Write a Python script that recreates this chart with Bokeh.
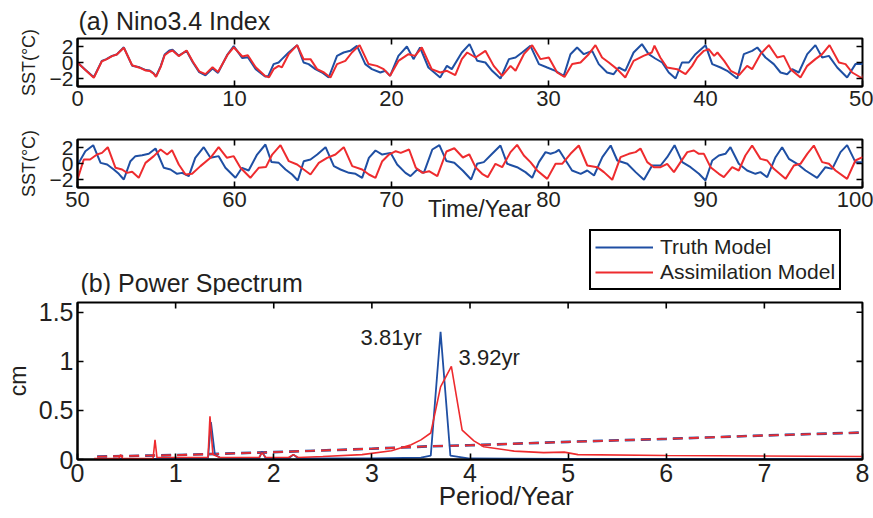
import math
from bokeh.plotting import figure
from bokeh.layouts import column
from bokeh.models import Range1d, FixedTicker, Label, Legend, LegendItem
from bokeh.embed import file_html
from bokeh.resources import INLINE

# ---------------- data ----------------
time_truth = [0.0, 0.5, 1.04, 1.55, 1.84, 2.2, 2.5, 2.95, 3.48, 3.95, 4.35, 4.6, 4.85, 5.0, 5.3, 5.55, 5.85,
              6.05, 6.45, 6.95, 7.35, 7.75, 8.15, 8.6, 8.95, 9.55, 9.95, 10.5, 10.85, 11.35, 11.95, 12.15,
              12.49, 12.81, 13.02, 13.45, 13.99, 14.4, 14.72, 15.15, 15.58, 16.0, 16.53, 16.95, 17.37, 17.8,
              18.33, 18.75, 19.29, 19.61, 19.91, 20.44, 20.98, 21.4, 21.82, 22.35, 23.1, 23.53, 23.84, 24.48,
              24.97, 25.46, 25.98, 26.41, 26.94, 27.48, 27.9, 28.32, 28.85, 29.39, 29.92, 30.44, 30.97, 31.4,
              31.82, 32.25, 32.78, 33.2, 33.73, 34.15, 34.47, 34.89, 35.42, 35.95, 36.38, 36.8, 37.24, 37.66,
              38.09, 38.5, 38.94, 39.36, 40.0, 40.43, 40.96, 41.38, 42.02, 42.44, 42.97, 43.3, 43.82, 44.35,
              44.78, 45.2, 45.52, 45.94, 46.48, 47.0, 47.43, 47.86, 48.39, 49.02, 49.55, 50.0,
              50.5, 51.0, 51.47, 51.89, 52.31, 52.63, 52.95, 53.37, 53.69, 54.12, 54.54, 54.97, 55.5, 55.92,
              56.34, 56.66, 57.09, 57.5, 58.04, 58.47, 58.99, 59.42, 60.06, 60.48, 60.9, 61.44, 61.97, 62.35,
              62.82, 63.25, 63.67, 64.03, 64.41, 64.84, 65.27, 65.8, 66.33, 66.75, 67.29, 67.71, 68.13, 68.56,
              68.98, 69.41, 69.94, 70.36, 70.89, 71.21, 71.64, 72.06, 72.6, 73.05, 73.5, 74.0, 74.55, 75.07,
              75.45, 75.88, 76.41, 76.94, 77.37, 78.0, 78.53, 78.96, 79.39, 79.81, 80.13, 80.45, 80.66, 81.5,
              82.05, 82.47, 82.9, 83.43, 83.96, 84.38, 85.02, 85.55, 86.08, 86.6, 87.14, 87.56, 88.03, 88.52,
              89.05, 89.58, 90.0, 90.43, 90.85, 91.27, 91.59, 92.12, 92.65, 93.18, 93.5, 93.93, 94.46, 94.88,
              95.31, 95.84, 96.37, 97.11, 97.64, 98.07, 98.6, 99.02, 99.55, 100.0]
sst_truth = [0.0, -0.9, -1.85, 0.2, 0.42, 0.83, 1.0, 1.9, -0.4, -0.6, -0.95, -1.0, -1.35, -1.75, -0.45, 1.0, 1.5,
             1.6, 0.85, 1.45, 0.0, -1.2, -1.6, -0.75, -1.3, 1.0, 2.05, 0.55, 0.65, -0.85, -1.75, -1.7,
             -0.2, 0.0, 0.42, 1.25, 2.17, 0.0, -0.2, -0.83, -1.25, -1.875, 0.83, 1.25, 1.46, 2.08,
             -0.2, -0.83, -1.25, -1.04, -1.67, 0.83, 2.0, 0.42, 1.875, -0.625, -1.875, -0.42, -0.83, 1.25,
             2.29, 0.21, 0.0, -1.04, -2.0, 0.42, 0.625, 1.25, 2.08, -0.2, -0.625, -1.04, -1.67, 1.04,
             1.875, 1.04, 1.46, -0.2, -1.25, -1.46, -0.625, -1.04, 1.25, 2.29, 1.04, 0.5, 0.0, -1.25,
             -2.0, 0.0, 0.0, 1.04, 2.17, -0.2, -0.625, -1.04, -2.0, 1.04, 1.46, 1.875, 0.625, -0.2,
             -1.25, -1.46, -0.83, -1.25, 1.04, 2.17, 0.625, 0.83, -0.625, -1.875, -0.2, -0.2,
             1.54, 2.29, 0.08, -0.125, -0.75, -1.29, -2.0, 0.29, 0.92, 1.04, 1.21, 1.875, -0.54, -0.75,
             -1.29, -1.17, -1.58, 0.71, 2.04, 0.71, 0.92, -0.54, -1.79, -0.54, -0.875, 1.12, 2.375, 0.2,
             0.08, -0.75, -1.375, -2.125, 0.29, 0.5, 1.12, 2.04, -0.33, -0.75, -1.17, -1.29, -1.79, 0.71,
             1.625, 1.12, 1.33, -0.125, -1.17, -1.58, -0.75, -1.17, 1.75, 2.3, 0.3, 0.1, -0.9, -2.0,
             -0.04, 0.17, 1.21, 2.25, -0.04, -0.46, -1.08, -1.79, 0.17, 1.42, 1.21, 1.42, 1.71, -0.875,
             -1.29, -0.875, -1.5, 0.79, 2.25, 0.375, -0.04, -1.08, -2.04, -0.25, -0.25, 0.79, 2.29, 0.17,
             -0.46, -1.29, -2.125, 0.375, 1.0, 1.21, 2.04, -0.04, -0.875, -1.29, -1.08, -1.71, 0.79, 2.04,
             0.58, -0.04, -0.875, -1.79, -0.46, -0.67, 1.42, 2.29, 0.17, 0.17]

time_assim = [0.0, 0.5, 1.04, 1.55, 1.84, 2.2, 2.5, 2.95, 3.48, 3.95, 4.35, 4.6, 4.85, 5.0, 5.3, 5.55, 5.85,
              6.05, 6.45, 6.95, 7.35, 7.75, 8.15, 8.6, 8.95, 9.55, 9.95, 10.5, 10.85, 11.35, 11.95, 12.2,
              12.49, 12.81, 13.02, 13.45, 13.99, 14.4, 14.84, 15.26, 15.7, 16.11, 16.53, 17.06, 17.48, 17.97,
              18.54, 19.07, 19.5, 19.91, 20.44, 21.08, 21.5, 21.93, 22.56, 23.1, 23.53, 24.06, 24.48, 24.82,
              25.35, 25.98, 26.51, 27.05, 27.58, 27.9, 28.43, 28.96, 29.49, 30.02, 30.55, 31.02, 31.51, 32.04,
              32.56, 32.99, 33.41, 33.84, 34.37, 34.89, 35.42, 36.05, 36.58, 36.75, 37.12, 37.55, 38.19, 38.73,
              39.15, 39.47, 39.9, 40.2, 40.55, 40.76, 41.19, 41.61, 42.14, 42.65, 42.97, 43.5, 44.04, 44.57,
              44.99, 45.41, 46.05, 46.48, 47.0, 47.43, 47.9, 48.5, 48.92, 49.34, 50.0,
              50.4, 50.8, 51.24, 51.56, 51.93, 52.42, 52.84, 53.16, 53.48, 53.9, 54.33, 54.86, 55.29, 55.71,
              56.02, 56.45, 56.88, 57.3, 57.83, 58.47, 58.99, 59.52, 59.95, 60.38, 61.01, 61.54, 62.0, 62.4,
              62.93, 63.46, 63.99, 64.41, 64.84, 65.37, 65.9, 66.43, 66.96, 67.5, 68.13, 68.56, 68.98, 69.41,
              69.84, 70.27, 70.59, 71.12, 71.55, 71.97, 72.39, 72.92, 73.5, 74.0, 74.55, 74.95, 75.35, 75.77,
              76.13, 76.62, 77.05, 77.58, 78.0, 78.43, 78.85, 79.28, 79.92, 80.45, 80.87, 81.4, 81.93, 82.47,
              83.1, 83.53, 84.06, 84.59, 85.12, 85.55, 85.86, 86.29, 86.71, 87.14, 87.56, 87.99, 88.41, 88.84,
              89.26, 89.58, 89.9, 90.32, 90.85, 91.17, 91.7, 92.12, 92.54, 92.97, 93.5, 93.93, 94.35, 95.1,
              95.63, 96.05, 96.48, 96.9, 97.43, 97.86, 98.28, 99.02, 99.55, 100.0]
sst_assim = [0.0, -0.95, -1.9, 0.15, 0.4, 0.8, 1.0, 1.85, -0.35, -0.65, -1.0, -1.05, -1.4, -1.8, -0.55, 0.9, 1.35,
             1.5, 0.8, 1.5, 0.1, -1.1, -1.45, -0.6, -1.2, 0.95, 1.9, 0.75, 0.9, -0.6, -1.7, -1.85,
             -0.83, -0.42, -0.6, 1.04, 2.17, 0.42, 0.42, -0.83, -1.25, -1.875, -0.2, 0.2, 1.25, 2.17,
             -0.2, -0.42, -0.83, -1.67, 0.2, 1.04, 0.83, 1.875, -0.83, -1.25, -1.04, -1.58, 0.42, 1.25,
             0.625, 1.46, -0.42, -1.67, -0.42, -1.04, 1.04, 2.17, 0.42, 0.625, -1.25, -1.8, -0.2, 0.0,
             1.04, 2.17, 0.625, 0.0, -0.83, -1.875, 0.2, 0.83, 1.25, 2.1, 0.625, -0.625, -0.83, -1.46,
             -0.42, 0.625, 1.46, 1.67, 0.83, 1.25, 0.2, -1.04, -1.58, -0.42, -0.83, 1.04, 2.17, 0.625,
             0.83, -0.83, -1.875, -0.42, 0.42, 1.04, 2.17, 0.0, -0.2, -1.25, -2.0,
             0.5, 0.5, 1.12, 1.33, 2.04, -0.54, -0.75, -1.17, -1.04, -1.79, 0.08, 0.92, 1.75, 1.12,
             1.67, -0.125, -1.375, -1.29, -0.33, 0.71, 2.04, 0.71, 0.92, -0.54, -1.79, -0.54, -0.45, 1.12,
             2.29, 0.29, -0.125, -0.75, -1.375, 0.08, 0.71, 1.12, 2.04, -0.33, -0.75, -1.375, -1.79, 0.29,
             1.12, 1.54, 1.33, 1.75, -0.54, -1.17, -0.96, -1.58, 1.5, 1.9, 0.75, 1.15, -0.46, -1.29,
             -1.71, -0.04, -0.46, 1.42, 2.33, 1.0, 0.17, -0.875, -1.92, -0.04, -0.04, 1.21, 2.25, -0.25,
             -0.46, -1.08, -2.04, 0.79, 1.21, 1.42, 1.875, 0.17, -0.46, -0.46, -0.04, -1.08, 0.17, 1.42,
             1.625, 1.21, 1.21, -0.46, -1.29, -1.71, -0.46, -0.875, 1.0, 2.25, 0.58, 0.375, -0.67, -1.92,
             -0.25, -0.04, 1.21, 2.25, 0.17, -0.04, -0.875, -1.92, 0.375, 0.79]

period_truth = [0.17, 0.8, 1.33, 1.36, 1.40, 1.45, 1.85, 1.88, 1.92, 2.15, 2.2, 2.25, 3.0, 3.5, 3.6, 3.70,
                3.80, 4.0, 5.0, 8.0]
power_truth = [0.005, 0.005, 0.01, 0.38, 0.05, 0.02, 0.01, 0.08, 0.01, 0.01, 0.05, 0.01, 0.01, 0.02, 0.04, 1.3,
               0.04, 0.01, 0.005, 0.005]
period_assim = [0.17, 0.42, 0.44, 0.46, 0.77, 0.79, 0.81, 1.33, 1.35, 1.38, 1.45, 1.85, 1.88, 1.92, 2.15, 2.2,
                2.25, 2.5, 2.9, 3.2, 3.4, 3.5, 3.6, 3.70, 3.81, 3.92, 4.04, 4.14, 4.45, 4.75, 4.96, 5.1, 6.0, 8.0]
power_assim = [0.01, 0.01, 0.05, 0.01, 0.01, 0.2, 0.02, 0.02, 0.44, 0.05, 0.02, 0.02, 0.07, 0.02, 0.02, 0.05,
               0.02, 0.03, 0.05, 0.09, 0.15, 0.2, 0.27, 0.74, 0.95, 0.30, 0.19, 0.13, 0.085, 0.07, 0.075, 0.05,
               0.04, 0.03]
period_sig = [0.2, 1.0, 2.0, 3.0, 3.6, 4.0, 5.0, 6.0, 7.0, 8.0]
power_sig = [0.03, 0.045, 0.075, 0.11, 0.135, 0.145, 0.18, 0.21, 0.245, 0.275]

peak_labels = ["3.81yr", "3.92yr"]
series_names = ["Truth Model", "Assimilation Model"]

sst_ticks = [-2, 0, 2]
time_ticks_a = [0, 10, 20, 30, 40, 50]
time_ticks_b = [50, 60, 70, 80, 90, 100]
period_ticks = [0, 1, 2, 3, 4, 5, 6, 7, 8]
power_ticks = [0, 0.5, 1, 1.5]

# ---------------- style ----------------
FONT = "Liberation Sans"
TXT = "#231f20"
BLUE = "#1f4fa3"
RED = "#ee2b2e"
NB = "\u00a0"


def make_fig(xr, yr, frame_h, top, bottom):
    p = figure(x_range=Range1d(*xr), y_range=Range1d(*yr), frame_width=785, frame_height=frame_h,
               min_border_left=77, min_border_right=11, min_border_top=top, min_border_bottom=bottom,
               output_backend="svg", toolbar_location=None)
    p.outline_line_color = "black"
    p.outline_line_width = 2
    p.xgrid.visible = False
    p.ygrid.visible = False
    p.background_fill_color = "white"
    p.border_fill_color = "white"
    return p


def style_axis(ax, ticks, size, overrides=None):
    ax.ticker = FixedTicker(ticks=ticks)
    ax.major_tick_in = 6
    ax.major_tick_out = 0
    ax.minor_tick_line_color = None
    ax.major_tick_line_width = 1.6
    ax.major_tick_line_color = "black"
    ax.axis_line_color = "black"
    ax.axis_line_width = 2
    ax.major_label_text_font = FONT
    ax.major_label_text_color = TXT
    ax.major_label_text_font_size = size
    ax.major_label_standoff = 4
    if overrides:
        ax.major_label_overrides = overrides
    ax.axis_label_text_font = FONT
    ax.axis_label_text_color = TXT
    ax.axis_label_text_font_style = "normal"


def box_ticks(p, xt, yt):
    # inward tick marks on the top and right edges of the box (half of each dash is clipped by the frame)
    xs = p.x_range
    ys = p.y_range
    p.scatter(x=xt, y=[ys.end] * len(xt), marker="dash", size=12, angle=math.pi / 2,
              line_color="black", line_width=1.6)
    p.scatter(x=[xs.end] * len(yt), y=yt, marker="dash", size=12, line_color="black", line_width=1.6)


sst_over = {-2: "\u22122", 0: "0", 2: "2"}

# panel (a) top
p1 = make_fig((0, 50), (-3, 3), 48, 38, 42)
style_axis(p1.xaxis[0], time_ticks_a, "22px")
style_axis(p1.yaxis[0], sst_ticks, "21px", sst_over)
p1.yaxis[0].axis_label = "SST(°C)"
p1.yaxis[0].axis_label_text_font_size = "18px"
p1.yaxis[0].axis_label_standoff = 8
p1.line(time_truth, sst_truth, line_color=BLUE, line_width=2)
p1.line(time_assim, sst_assim, line_color=RED, line_width=2)
box_ticks(p1, time_ticks_a, sst_ticks)
p1.title.text = "(a) Nino3.4 Index"
p1.title.align = "left"
p1.title.offset = 1
p1.title.standoff = 8
p1.title.text_font = FONT
p1.title.text_font_size = "25px"
p1.title.text_font_style = "normal"
p1.title.text_color = TXT

# panel (a) bottom
p2 = make_fig((50, 100), (-3, 3), 48, 11, 41)
style_axis(p2.xaxis[0], time_ticks_b, "22px")
style_axis(p2.yaxis[0], sst_ticks, "21px", sst_over)
p2.yaxis[0].axis_label = "SST(°C)"
p2.yaxis[0].axis_label_text_font_size = "18px"
p2.yaxis[0].axis_label_standoff = 8
p2.xaxis[0].axis_label = NB * 3 + "Time/Year"
p2.xaxis[0].axis_label_text_font_size = "23px"
p2.xaxis[0].axis_label_standoff = -14
p2.line(time_truth, sst_truth, line_color=BLUE, line_width=2)
p2.line(time_assim, sst_assim, line_color=RED, line_width=2)
box_ticks(p2, time_ticks_b, sst_ticks)

# strip between panels: title (b) and the legend (same frame geometry as the panels)
STRIP_H = 67
ps = figure(frame_width=785, frame_height=STRIP_H, x_range=Range1d(0, 785), y_range=Range1d(0, STRIP_H),
            min_border_left=77, min_border_right=11, min_border_top=0, min_border_bottom=0,
            x_axis_location=None, y_axis_location=None, output_backend="svg", toolbar_location=None)
ps.outline_line_color = None
ps.grid.visible = False
ps.background_fill_color = "white"
ps.border_fill_color = "white"
# legend proxies: the spectrum series on a range that keeps them out of view in this strip
ps.extra_y_ranges = {"off": Range1d(50, 60)}
lb = ps.line(period_truth, power_truth, line_color=BLUE, line_width=2, y_range_name="off")
lr = ps.line(period_assim, power_assim, line_color=RED, line_width=2, y_range_name="off")
ps.add_layout(Label(x=3, y=13, text="(b) Power Spectrum", text_font=FONT, text_font_size="25px",
                    text_color=TXT, text_baseline="middle", text_align="left"))
legend = Legend(items=[LegendItem(label=series_names[0], renderers=[lb]),
                       LegendItem(label=series_names[1], renderers=[lr])],
                location=(512, 5), margin=0, padding=4, spacing=1, glyph_width=58, glyph_height=20,
                label_height=20, label_standoff=7, label_text_font=FONT, label_text_font_size="21px",
                label_text_color=TXT, border_line_color="black", border_line_width=2,
                border_line_alpha=1.0, background_fill_color="white", background_fill_alpha=1.0)
ps.add_layout(legend, "center")

# panel (b)
p3 = make_fig((0, 8), (0, 1.6), 157, 7, 59)
style_axis(p3.xaxis[0], period_ticks, "25px")
style_axis(p3.yaxis[0], power_ticks, "25px", {0: "0", 0.5: "0.5", 1: "1", 1.5: "1.5"})
p3.yaxis[0].axis_label = "cm"
p3.yaxis[0].axis_label_text_font_size = "23px"
p3.yaxis[0].axis_label_standoff = 5
p3.xaxis[0].axis_label = NB * 10 + "Period/Year"
p3.xaxis[0].axis_label_text_font_size = "26px"
p3.xaxis[0].axis_label_standoff = -4
p3.line(period_sig, power_sig, line_color=BLUE, line_width=2.6, line_dash="10 6")
p3.line(period_sig, power_sig, line_color=RED, line_width=1.8, line_dash="10 6")
p3.line(period_truth, power_truth, line_color=BLUE, line_width=1.8)
p3.line(period_assim, power_assim, line_color=RED, line_width=1.6)
box_ticks(p3, period_ticks, power_ticks)
p3.add_layout(Label(x=2.885, y=1.244, text=peak_labels[0], text_font=FONT, text_font_size="22px",
                    text_color=TXT, text_baseline="middle", text_align="left"))
p3.add_layout(Label(x=3.884, y=1.04, text=peak_labels[1], text_font=FONT, text_font_size="22px",
                    text_color=TXT, text_baseline="middle", text_align="left"))

layout = column(p1, p2, ps, p3, spacing=0)
open("out.html", "w").write(file_html(layout, INLINE))
